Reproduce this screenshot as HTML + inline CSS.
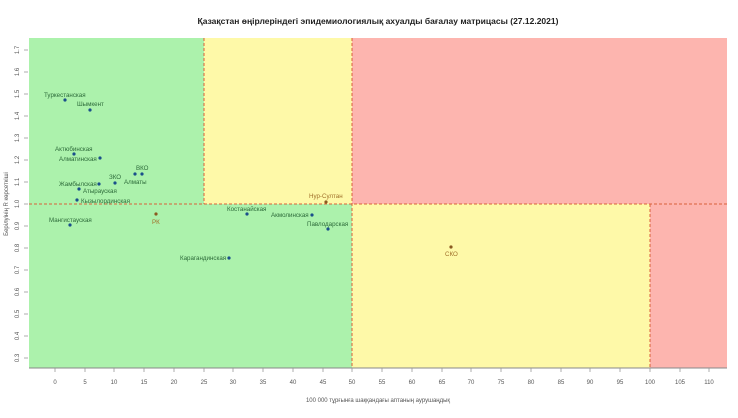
<!DOCTYPE html><html><head><meta charset="utf-8"><style>body{margin:0;background:#fff}svg{display:block;font-family:"Liberation Sans",sans-serif}</style></head><body>
<svg width="738" height="418" viewBox="0 0 738 418">
<text x="378" y="24" font-size="8.5" font-weight="bold" text-anchor="middle" fill="#222">Қазақстан өңірлеріндегі эпидемиологиялық ахуалды бағалау матрицасы  (27.12.2021)</text>
<rect x="29" y="38" width="175" height="166" fill="#acf2ac"/>
<rect x="204" y="38" width="148" height="166" fill="#fef9a8"/>
<rect x="352" y="38" width="375" height="166" fill="#fdb5af"/>
<rect x="29" y="204" width="323" height="164" fill="#acf2ac"/>
<rect x="352" y="204" width="298" height="164" fill="#fef9a8"/>
<rect x="650" y="204" width="77" height="164" fill="#fdb5af"/>
<g stroke="#d9603a" stroke-width="1" stroke-dasharray="3,2" fill="none">
<line x1="29" y1="204" x2="727" y2="204"/>
<line x1="204" y1="38" x2="204" y2="204"/>
<line x1="352" y1="38" x2="352" y2="368"/>
<line x1="650" y1="204" x2="650" y2="368"/>
</g>
<line x1="29" y1="368" x2="727" y2="368" stroke="#888"/>
<g stroke="#999" stroke-width="0.8">
<line x1="55" y1="368" x2="55" y2="372"/><line x1="85" y1="368" x2="85" y2="372"/><line x1="114" y1="368" x2="114" y2="372"/><line x1="144" y1="368" x2="144" y2="372"/><line x1="174" y1="368" x2="174" y2="372"/><line x1="204" y1="368" x2="204" y2="372"/><line x1="233" y1="368" x2="233" y2="372"/><line x1="263" y1="368" x2="263" y2="372"/><line x1="293" y1="368" x2="293" y2="372"/><line x1="323" y1="368" x2="323" y2="372"/><line x1="352" y1="368" x2="352" y2="372"/><line x1="382" y1="368" x2="382" y2="372"/><line x1="412" y1="368" x2="412" y2="372"/><line x1="442" y1="368" x2="442" y2="372"/><line x1="471" y1="368" x2="471" y2="372"/><line x1="501" y1="368" x2="501" y2="372"/><line x1="531" y1="368" x2="531" y2="372"/><line x1="561" y1="368" x2="561" y2="372"/><line x1="590" y1="368" x2="590" y2="372"/><line x1="620" y1="368" x2="620" y2="372"/><line x1="650" y1="368" x2="650" y2="372"/><line x1="680" y1="368" x2="680" y2="372"/><line x1="709" y1="368" x2="709" y2="372"/>
<line x1="24" y1="50" x2="28" y2="50"/><line x1="24" y1="72" x2="28" y2="72"/><line x1="24" y1="94" x2="28" y2="94"/><line x1="24" y1="116" x2="28" y2="116"/><line x1="24" y1="138" x2="28" y2="138"/><line x1="24" y1="160" x2="28" y2="160"/><line x1="24" y1="182" x2="28" y2="182"/><line x1="24" y1="204" x2="28" y2="204"/><line x1="24" y1="226" x2="28" y2="226"/><line x1="24" y1="248" x2="28" y2="248"/><line x1="24" y1="270" x2="28" y2="270"/><line x1="24" y1="292" x2="28" y2="292"/><line x1="24" y1="314" x2="28" y2="314"/><line x1="24" y1="336" x2="28" y2="336"/><line x1="24" y1="358" x2="28" y2="358"/>
</g>
<g font-size="6" fill="#555" text-anchor="middle">
<text x="55" y="384">0</text><text x="85" y="384">5</text><text x="114" y="384">10</text><text x="144" y="384">15</text><text x="174" y="384">20</text><text x="204" y="384">25</text><text x="233" y="384">30</text><text x="263" y="384">35</text><text x="293" y="384">40</text><text x="323" y="384">45</text><text x="352" y="384">50</text><text x="382" y="384">55</text><text x="412" y="384">60</text><text x="442" y="384">65</text><text x="471" y="384">70</text><text x="501" y="384">75</text><text x="531" y="384">80</text><text x="561" y="384">85</text><text x="590" y="384">90</text><text x="620" y="384">95</text><text x="650" y="384">100</text><text x="680" y="384">105</text><text x="709" y="384">110</text>
<text x="378" y="402">100 000 тұрғынға шаққандағы аптаның аурушаңдық</text>
</g>
<g font-size="6" fill="#555" text-anchor="middle">
<text transform="translate(19,50) rotate(-90)">1.7</text><text transform="translate(19,72) rotate(-90)">1.6</text><text transform="translate(19,94) rotate(-90)">1.5</text><text transform="translate(19,116) rotate(-90)">1.4</text><text transform="translate(19,138) rotate(-90)">1.3</text><text transform="translate(19,160) rotate(-90)">1.2</text><text transform="translate(19,182) rotate(-90)">1.1</text><text transform="translate(19,204) rotate(-90)">1.0</text><text transform="translate(19,226) rotate(-90)">0.9</text><text transform="translate(19,248) rotate(-90)">0.8</text><text transform="translate(19,270) rotate(-90)">0.7</text><text transform="translate(19,292) rotate(-90)">0.6</text><text transform="translate(19,314) rotate(-90)">0.5</text><text transform="translate(19,336) rotate(-90)">0.4</text><text transform="translate(19,358) rotate(-90)">0.3</text>
<text transform="translate(8,204) rotate(-90)">Берілуінің R көрсеткіші</text>
</g>
<g fill="#1a4f8a">
<circle cx="65" cy="100" r="1.6"/><circle cx="90" cy="110" r="1.6"/><circle cx="74" cy="154" r="1.6"/><circle cx="100" cy="158" r="1.6"/><circle cx="135" cy="174" r="1.6"/><circle cx="142" cy="174" r="1.6"/><circle cx="115" cy="183" r="1.6"/><circle cx="99" cy="184" r="1.6"/><circle cx="79" cy="189" r="1.6"/><circle cx="77" cy="200" r="1.6"/><circle cx="70" cy="225" r="1.6"/><circle cx="247" cy="214" r="1.6"/><circle cx="312" cy="215" r="1.6"/><circle cx="328" cy="229" r="1.6"/><circle cx="229" cy="258" r="1.6"/>
</g>
<g fill="#8a5a20"><circle cx="156" cy="214" r="1.6"/><circle cx="326" cy="202" r="1.6"/><circle cx="451" cy="247" r="1.6"/></g>
<g font-size="6.2" fill="#2d6b3a">
<text x="44" y="97">Туркестанская</text><text x="77" y="106">Шымкент</text><text x="55" y="151">Актюбинская</text><text x="59" y="161">Алматинская</text><text x="136" y="170">ВКО</text><text x="109" y="179">ЗКО</text><text x="124" y="184">Алматы</text><text x="59" y="186">Жамбылская</text><text x="83" y="193">Атырауская</text><text x="81" y="203">Кызылординская</text><text x="49" y="222">Мангистауская</text><text x="227" y="211">Костанайская</text><text x="271" y="217">Акмолинская</text><text x="307" y="226">Павлодарская</text><text x="180" y="260">Карагандинская</text>
</g>
<g font-size="6.2" fill="#a0702a"><text x="152" y="224">РК</text><text x="309" y="198">Нур-Султан</text><text x="445" y="256">СКО</text></g>
</svg></body></html>
